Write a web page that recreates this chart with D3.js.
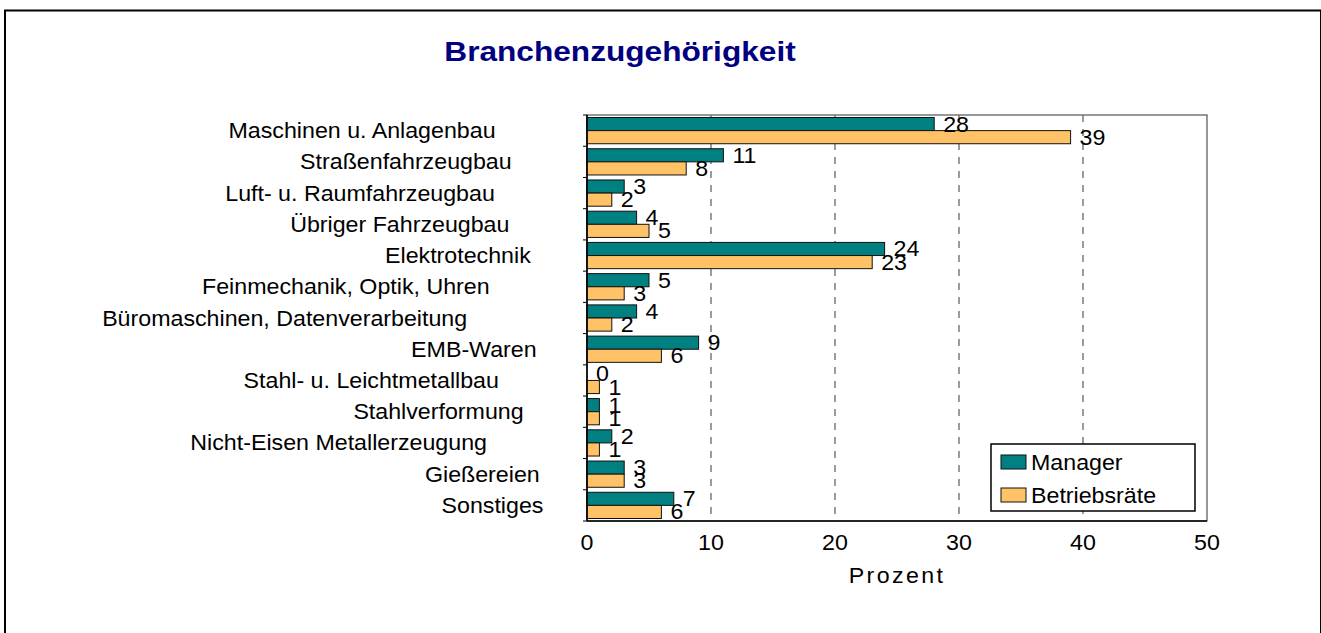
<!DOCTYPE html>
<html>
<head>
<meta charset="utf-8">
<script src="https://cdn.jsdelivr.net/npm/d3@7"></script>
<style>
  body { margin: 0; background: #fff; }
  text { font-family: "Liberation Sans", Arial, sans-serif; fill: #000; }
</style>
</head>
<body>
<svg id="chart" width="1321" height="633"></svg>
<script>
// ----------------------------
// Data
// ----------------------------
const categories = [
  "Maschinen u. Anlagenbau",
  "Straßenfahrzeugbau",
  "Luft- u. Raumfahrzeugbau",
  "Übriger Fahrzeugbau",
  "Elektrotechnik",
  "Feinmechanik, Optik, Uhren",
  "Büromaschinen, Datenverarbeitung",
  "EMB-Waren",
  "Stahl- u. Leichtmetallbau",
  "Stahlverformung",
  "Nicht-Eisen Metallerzeugung",
  "Gießereien",
  "Sonstiges"
];
const manager = [28, 11, 3, 4, 24, 5, 4, 9, 0, 1, 2, 3, 7];
const betriebsraete = [39, 8, 2, 5, 23, 3, 2, 6, 1, 1, 1, 3, 6];
const seriesNames = ["Manager", "Betriebsräte"];
const xTicks = [0, 10, 20, 30, 40, 50];

// ----------------------------
// Layout
// ----------------------------
const svg = d3.select("#chart");
const SX = 1.08;         // text is a little stretched horizontally
const FS = 21.5;
const colors = ["#008080", "#ffc266"];

const plot = { left: 587, right: 1207, top: 115, bottom: 521 };

const xScale = d3.scaleLinear().domain([0, 50]).range([plot.left, plot.right]);
const yScale = d3.scaleBand().domain(categories)
  .range([plot.top, plot.bottom]).paddingInner(0.16).paddingOuter(0.08);
const ySub = d3.scaleBand().domain(seriesNames).range([0, yScale.bandwidth()]);

function label(parent, x, y, str, opts = {}) {
  const t = parent.append("text")
    .attr("transform", `translate(${x},${y}) scale(${opts.sx || SX},1)`)
    .attr("font-size", opts.size || FS)
    .attr("text-anchor", opts.anchor || "start")
    .text(str);
  if (opts.weight) t.attr("font-weight", opts.weight);
  if (opts.fill) t.style("fill", opts.fill);
  if (opts.spacing) t.attr("letter-spacing", opts.spacing);
  return t;
}

// outer frame
svg.append("rect")
  .attr("x", 5).attr("y", 10.5).attr("width", 1316).attr("height", 700)
  .attr("fill", "none").attr("stroke", "#000").attr("stroke-width", 2);

// title
label(svg, 620, 61, "Branchenzugehörigkeit",
  { size: 28, sx: 1.13, anchor: "middle", weight: "bold", fill: "#000080" });

// plot frame
svg.append("rect")
  .attr("x", plot.left).attr("y", plot.top)
  .attr("width", plot.right - plot.left).attr("height", plot.bottom - plot.top)
  .attr("fill", "none").attr("stroke", "#333").attr("stroke-width", 1);

// gridlines
svg.append("g").selectAll("line")
  .data(xTicks.filter(d => d > 0 && d < 50))
  .join("line")
  .attr("x1", d => xScale(d)).attr("x2", d => xScale(d))
  .attr("y1", plot.top).attr("y2", plot.bottom)
  .attr("stroke", "#666").attr("stroke-width", 1.3)
  .attr("stroke-dasharray", "7,7");

// bars
const groups = svg.append("g").selectAll("g")
  .data(categories.map((c, i) => ({ c, vals: [manager[i], betriebsraete[i]] })))
  .join("g")
  .attr("transform", d => `translate(0,${yScale(d.c)})`);

groups.selectAll("rect")
  .data(d => d.vals.map((v, j) => ({ v, s: seriesNames[j], j })))
  .join("rect")
  .attr("x", xScale(0))
  .attr("y", d => ySub(d.s))
  .attr("width", d => xScale(d.v) - xScale(0))
  .attr("height", ySub.bandwidth())
  .attr("fill", d => colors[d.j])
  .attr("stroke", "#111").attr("stroke-width", 1);

// axis lines
svg.append("line")
  .attr("x1", plot.left).attr("x2", plot.left)
  .attr("y1", plot.top).attr("y2", plot.bottom)
  .attr("stroke", "#000").attr("stroke-width", 1.6);
svg.append("line")
  .attr("x1", plot.left).attr("x2", plot.right)
  .attr("y1", plot.bottom).attr("y2", plot.bottom)
  .attr("stroke", "#000").attr("stroke-width", 1.6);

// category separator ticks
const step = yScale.step();
const bounds = d3.range(categories.length + 1).map(i => plot.top + i * step);
svg.append("g").selectAll("line")
  .data(bounds).join("line")
  .attr("x1", plot.left - 4).attr("x2", plot.left)
  .attr("y1", d => d).attr("y2", d => d)
  .attr("stroke", "#000").attr("stroke-width", 1);

// value labels
groups.each(function (d) {
  const g = d3.select(this);
  d.vals.forEach((v, j) => {
    const cy = ySub(seriesNames[j]) + ySub.bandwidth() / 2;
    label(g, xScale(v) + 9, cy + 7.5, String(v));
  });
});

// category labels (placed like right-aligned text of a wider font)
categories.forEach(c => {
  const cy = yScale(c) + yScale.bandwidth() / 2;
  const t = label(svg, 0, cy + 7.5, c);
  const w = t.node().getComputedTextLength() * SX;
  t.attr("transform", `translate(${573 - 1.29 * w},${cy + 7.5}) scale(${SX},1)`);
});

// x tick labels
xTicks.forEach(v => label(svg, xScale(v), 550, String(v), { anchor: "middle" }));

// axis title
label(svg, (plot.left + plot.right) / 2, 583, "Prozent",
  { anchor: "middle", spacing: 2.2 });

// legend
const legend = svg.append("g");
legend.append("rect")
  .attr("x", 991).attr("y", 444).attr("width", 204).attr("height", 67)
  .attr("fill", "#fff").attr("stroke", "#000").attr("stroke-width", 1.5);
seriesNames.forEach((s, j) => {
  const y0 = 455 + j * 33;
  legend.append("rect")
    .attr("x", 1001).attr("y", y0).attr("width", 25).attr("height", 14)
    .attr("fill", colors[j]).attr("stroke", "#111").attr("stroke-width", 1);
  label(legend, 1031, y0 + 14.5, s);
});
</script>
</body>
</html>
